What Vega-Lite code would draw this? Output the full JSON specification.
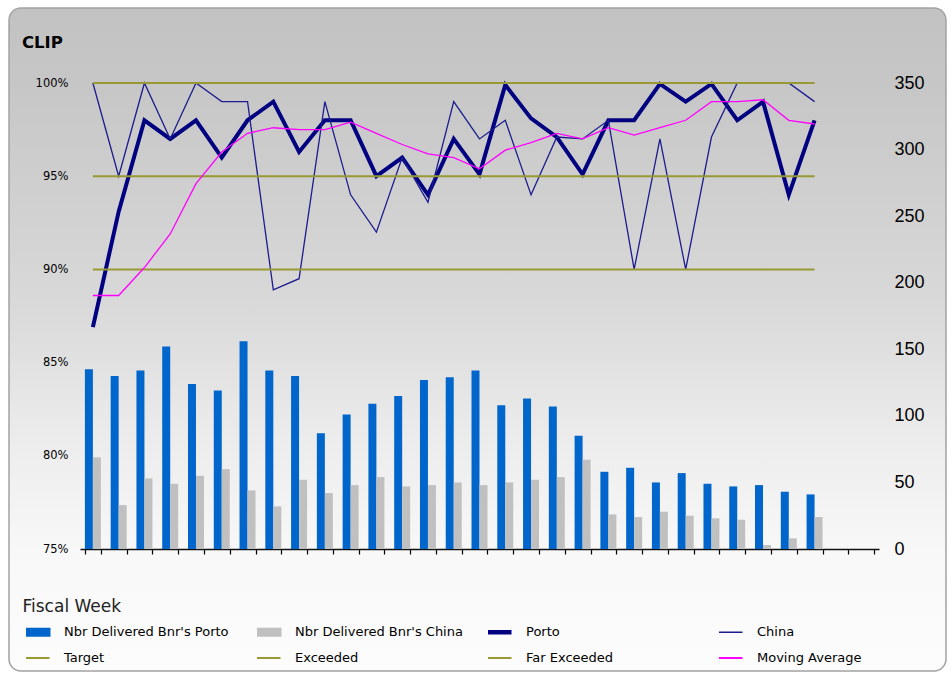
{
  "$schema": "https://vega.github.io/schema/vega-lite/v6.json",
  "autosize": {"type": "none"},
  "padding": {"left": 9, "top": 8, "right": 6, "bottom": 4},
  "width": 937,
  "height": 663,
  "background": "#ffffff",
  "view": {
    "fill": {"gradient": "linear", "x1": 0, "y1": 0, "x2": 0, "y2": 1,
      "stops": [
        {"offset": 0, "color": "#c2c2c2"},
        {"offset": 0.11, "color": "#c6c6c6"},
        {"offset": 0.45, "color": "#d9d9d9"},
        {"offset": 0.65, "color": "#ececec"},
        {"offset": 0.82, "color": "#f8f8f8"},
        {"offset": 1, "color": "#fcfcfc"}
      ]},
    "stroke": "#a3a3a3",
    "strokeWidth": 1.5,
    "cornerRadius": 12
  },
  "title": {"text": "CLIP", "anchor": "start", "frame": "group", "offset": 0, "baseline": "alphabetic", "dx": 13, "dy": 56, "font": "DejaVu Sans", "fontSize": 16.5, "fontWeight": "bold", "color": "#000000"},
  "data": {"values": [
    {"week": 1, "pn": 135, "cn": 69, "porto": 0.869, "china": 1.0, "target": 0.9, "exceeded": 0.95, "far": 1.0, "ma": 0.886},
    {"week": 2, "pn": 130, "cn": 33, "porto": 0.931, "china": 0.95, "target": 0.9, "exceeded": 0.95, "far": 1.0, "ma": 0.886},
    {"week": 3, "pn": 134, "cn": 53, "porto": 0.98, "china": 1.0, "target": 0.9, "exceeded": 0.95, "far": 1.0, "ma": 0.901},
    {"week": 4, "pn": 152, "cn": 49, "porto": 0.97, "china": 0.97, "target": 0.9, "exceeded": 0.95, "far": 1.0, "ma": 0.919},
    {"week": 5, "pn": 124, "cn": 55, "porto": 0.98, "china": 1.0, "target": 0.9, "exceeded": 0.95, "far": 1.0, "ma": 0.946},
    {"week": 6, "pn": 119, "cn": 60, "porto": 0.96, "china": 0.99, "target": 0.9, "exceeded": 0.95, "far": 1.0, "ma": 0.963},
    {"week": 7, "pn": 156, "cn": 44, "porto": 0.98, "china": 0.99, "target": 0.9, "exceeded": 0.95, "far": 1.0, "ma": 0.973},
    {"week": 8, "pn": 134, "cn": 32, "porto": 0.99, "china": 0.889, "target": 0.9, "exceeded": 0.95, "far": 1.0, "ma": 0.976},
    {"week": 9, "pn": 130, "cn": 52, "porto": 0.963, "china": 0.895, "target": 0.9, "exceeded": 0.95, "far": 1.0, "ma": 0.975},
    {"week": 10, "pn": 87, "cn": 42, "porto": 0.98, "china": 0.99, "target": 0.9, "exceeded": 0.95, "far": 1.0, "ma": 0.975},
    {"week": 11, "pn": 101, "cn": 48, "porto": 0.98, "china": 0.94, "target": 0.9, "exceeded": 0.95, "far": 1.0, "ma": 0.979},
    {"week": 12, "pn": 109, "cn": 54, "porto": 0.95, "china": 0.92, "target": 0.9, "exceeded": 0.95, "far": 1.0, "ma": 0.973},
    {"week": 13, "pn": 115, "cn": 47, "porto": 0.96, "china": 0.96, "target": 0.9, "exceeded": 0.95, "far": 1.0, "ma": 0.967},
    {"week": 14, "pn": 127, "cn": 48, "porto": 0.94, "china": 0.936, "target": 0.9, "exceeded": 0.95, "far": 1.0, "ma": 0.962},
    {"week": 15, "pn": 129, "cn": 50, "porto": 0.97, "china": 0.99, "target": 0.9, "exceeded": 0.95, "far": 1.0, "ma": 0.96},
    {"week": 16, "pn": 134, "cn": 48, "porto": 0.951, "china": 0.97, "target": 0.9, "exceeded": 0.95, "far": 1.0, "ma": 0.954},
    {"week": 17, "pn": 108, "cn": 50, "porto": 0.999, "china": 0.98, "target": 0.9, "exceeded": 0.95, "far": 1.0, "ma": 0.964},
    {"week": 18, "pn": 113, "cn": 52, "porto": 0.981, "china": 0.94, "target": 0.9, "exceeded": 0.95, "far": 1.0, "ma": 0.968},
    {"week": 19, "pn": 107, "cn": 54, "porto": 0.971, "china": 0.971, "target": 0.9, "exceeded": 0.95, "far": 1.0, "ma": 0.973},
    {"week": 20, "pn": 85, "cn": 67, "porto": 0.951, "china": 0.97, "target": 0.9, "exceeded": 0.95, "far": 1.0, "ma": 0.97},
    {"week": 21, "pn": 58, "cn": 26, "porto": 0.98, "china": 0.98, "target": 0.9, "exceeded": 0.95, "far": 1.0, "ma": 0.976},
    {"week": 22, "pn": 61, "cn": 24, "porto": 0.98, "china": 0.9, "target": 0.9, "exceeded": 0.95, "far": 1.0, "ma": 0.972},
    {"week": 23, "pn": 50, "cn": 28, "porto": 0.9995, "china": 0.97, "target": 0.9, "exceeded": 0.95, "far": 1.0, "ma": 0.976},
    {"week": 24, "pn": 57, "cn": 25, "porto": 0.99, "china": 0.9, "target": 0.9, "exceeded": 0.95, "far": 1.0, "ma": 0.98},
    {"week": 25, "pn": 49, "cn": 23, "porto": 0.9995, "china": 0.971, "target": 0.9, "exceeded": 0.95, "far": 1.0, "ma": 0.99},
    {"week": 26, "pn": 47, "cn": 22, "porto": 0.98, "china": 1.0, "target": 0.9, "exceeded": 0.95, "far": 1.0, "ma": 0.99},
    {"week": 27, "pn": 48, "cn": 3, "porto": 0.99, "china": 1.0, "target": 0.9, "exceeded": 0.95, "far": 1.0, "ma": 0.991},
    {"week": 28, "pn": 43, "cn": 8, "porto": 0.94, "china": 1.0, "target": 0.9, "exceeded": 0.95, "far": 1.0, "ma": 0.98},
    {"week": 29, "pn": 41, "cn": 24, "porto": 0.98, "china": 0.99, "target": 0.9, "exceeded": 0.95, "far": 1.0, "ma": 0.978}
  ]},
  "encoding": {
    "x": {
      "field": "week", "type": "ordinal",
      "scale": {"domain": [1,2,3,4,5,6,7,8,9,10,11,12,13,14,15,16,17,18,19,20,21,22,23,24,25,26,27,28,29,30,31], "range": [71, 870], "paddingInner": 0.38, "paddingOuter": 0.19},
      "axis": {"orient": "bottom", "offset": -122, "labels": false, "ticks": true, "tickSize": 5, "tickColor": "#000000", "tickWidth": 1.2, "tickBand": "extent", "domain": true, "domainColor": "#111111", "domainWidth": 1.5, "grid": false,
        "title": "Fiscal Week", "titleX": 13, "titleY": 57, "titleAlign": "left", "titleBaseline": "middle", "titleFont": "DejaVu Sans", "titleFontSize": 17, "titleFontWeight": "normal", "titleColor": "#222222"}
    }
  },
  "layer": [
    {
      "transform": [{"fold": ["pn", "cn"], "as": ["key", "val"]}],
      "mark": {"type": "bar"},
      "encoding": {
        "xOffset": {"field": "key", "type": "nominal", "scale": {"domain": ["pn", "cn"], "paddingInner": 0, "paddingOuter": 0}},
        "y": {"field": "val", "type": "quantitative",
          "scale": {"domain": [0, 350], "range": [541, 75], "nice": false, "zero": true},
          "axis": {"orient": "right", "offset": -67, "values": [0, 50, 100, 150, 200, 250, 300, 350], "labelPadding": 15, "ticks": false, "domain": false, "grid": false, "title": null, "labelFont": "Liberation Sans", "labelFontSize": 18, "labelColor": "#000000"}},
        "color": {"field": "key", "type": "nominal",
          "scale": {"domain": ["pn", "cn", "porto", "china", "target", "exceeded", "far", "ma"], "range": ["#0066cc", "#c0c0c0", "#000080", "#1c1c8e", "#999933", "#999933", "#999933", "#ff00ff"]},
          "legend": {
            "orient": "none", "legendX": 17, "legendY": 617.5, "direction": "horizontal", "columns": 4, "gridAlign": "all", "columnPadding": 25, "rowPadding": 12, "clipHeight": 13, "symbolSize": 1156, "labelOffset": 25, "labelFont": "DejaVu Sans", "labelFontSize": 13, "labelColor": "#000000", "labelLimit": 400, "padding": 0, "title": null,
            "labelExpr": "{'pn': \"Nbr Delivered Bnr's Porto\", 'cn': \"Nbr Delivered Bnr's China\", 'porto': 'Porto', 'china': 'China', 'target': 'Target', 'exceeded': 'Exceeded', 'far': 'Far Exceeded', 'ma': 'Moving Average'}[datum.value]",
            "encode": {"symbols": {"update": {
              "shape": {"signal": "datum.value == 'pn' || datum.value == 'cn' ? 'M-1,-0.21H1V0.21H-1Z' : 'stroke'"},
              "fill": {"signal": "datum.value == 'pn' ? '#0066cc' : datum.value == 'cn' ? '#c0c0c0' : 'transparent'"},
              "stroke": {"signal": "datum.value == 'pn' || datum.value == 'cn' ? 'transparent' : datum.value == 'porto' ? '#000080' : datum.value == 'china' ? '#1c1c8e' : datum.value == 'ma' ? '#ff00ff' : '#999933'"},
              "strokeWidth": {"signal": "datum.value == 'porto' ? 4.5 : datum.value == 'china' ? 1.5 : 2"},
              "opacity": {"value": 1},
              "fillOpacity": {"value": 1},
              "strokeOpacity": {"value": 1}
            }}}
          }
        }
      }
    },
    {
      "layer": [
        {
          "mark": {"type": "line", "strokeWidth": 4},
          "encoding": {
            "y": {"field": "porto", "type": "quantitative",
              "scale": {"domain": [0.75, 1.0], "range": [541, 75], "nice": false, "zero": false},
              "axis": {"orient": "left", "offset": -71, "values": [0.75, 0.8, 0.85, 0.9, 0.95, 1.0], "format": ".0%", "labelPadding": 12, "ticks": false, "domain": false, "grid": false, "title": null, "labelFont": "DejaVu Sans", "labelFontSize": 11.5, "labelColor": "#000000"}},
            "color": {"datum": "porto", "type": "nominal"}
          }
        },
        {
          "mark": {"type": "line", "strokeWidth": 1.3},
          "encoding": {
            "y": {"field": "china", "type": "quantitative"},
            "color": {"datum": "china", "type": "nominal"}
          }
        },
        {
          "mark": {"type": "line", "strokeWidth": 2},
          "encoding": {
            "y": {"field": "target", "type": "quantitative"},
            "color": {"datum": "target", "type": "nominal"}
          }
        },
        {
          "mark": {"type": "line", "strokeWidth": 2},
          "encoding": {
            "y": {"field": "exceeded", "type": "quantitative"},
            "color": {"datum": "exceeded", "type": "nominal"}
          }
        },
        {
          "mark": {"type": "line", "strokeWidth": 2},
          "encoding": {
            "y": {"field": "far", "type": "quantitative"},
            "color": {"datum": "far", "type": "nominal"}
          }
        },
        {
          "mark": {"type": "line", "strokeWidth": 1.3},
          "encoding": {
            "y": {"field": "ma", "type": "quantitative"},
            "color": {"datum": "ma", "type": "nominal"}
          }
        }
      ]
    }
  ],
  "resolve": {"scale": {"y": "independent"}, "axis": {"y": "independent"}}
}
